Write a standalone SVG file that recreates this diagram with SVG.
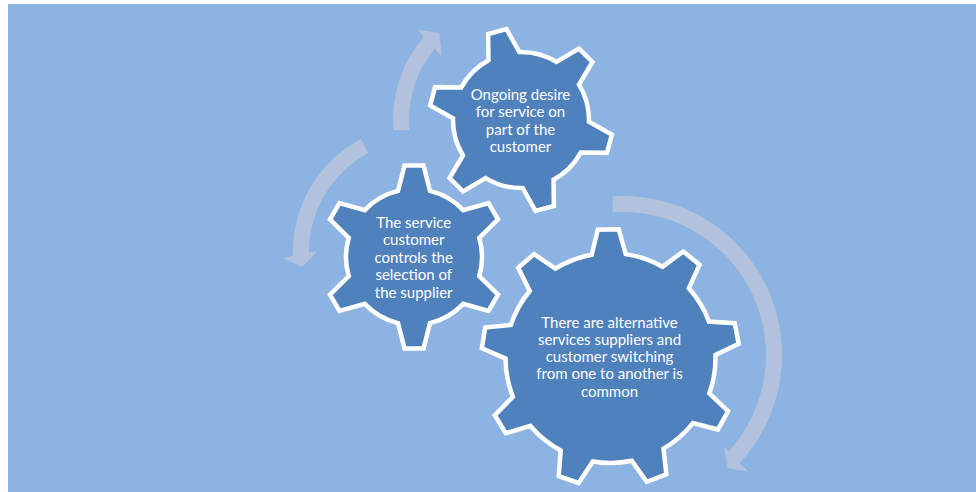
<svg xmlns="http://www.w3.org/2000/svg" width="976" height="492" viewBox="0 0 976 492">
<style>
.gear{fill:#4F81BD;stroke:#FFFFFF;stroke-width:4.5;stroke-linejoin:miter}
.arrow{fill:#B2C2DC}
.lbl{font-family:Lato,"Liberation Sans",sans-serif;font-size:15px;fill:#FFFFFF;text-anchor:middle}
</style>
<defs>
<path id="gear6" d="M-15.99,-66.10 L-9.50,-91.51 L9.50,-91.51 L15.99,-66.10 A68,68 0 0 1 49.25,-46.90 L74.50,-53.98 L84.00,-37.53 L65.24,-19.20 A68,68 0 0 1 65.24,19.20 L84.00,37.53 L74.50,53.98 L49.25,46.90 A68,68 0 0 1 15.99,66.10 L9.50,91.51 L-9.50,91.51 L-15.99,66.10 A68,68 0 0 1 -49.25,46.90 L-74.50,53.98 L-84.00,37.53 L-65.24,19.20 A68,68 0 0 1 -65.24,-19.20 L-84.00,-37.53 L-74.50,-53.98 L-49.25,-46.90 A68,68 0 0 1 -15.99,-66.10 Z"/>
<path id="gear9" d="M-17.00,-103.61 L-10.50,-128.57 L10.50,-128.57 L17.00,-103.61 A105,105 0 0 1 53.58,-90.30 L74.60,-105.24 L90.68,-91.74 L79.62,-68.44 A105,105 0 0 1 99.09,-34.73 L124.80,-32.67 L128.44,-11.99 L104.99,-1.25 A105,105 0 0 1 98.23,37.09 L116.60,55.20 L106.10,73.38 L81.23,66.53 A105,105 0 0 1 51.41,91.55 L53.84,117.23 L34.10,124.41 L19.47,103.17 A105,105 0 0 1 -19.47,103.17 L-34.10,124.41 L-53.84,117.23 L-51.41,91.55 A105,105 0 0 1 -81.23,66.53 L-106.10,73.38 L-116.60,55.20 L-98.23,37.09 A105,105 0 0 1 -104.99,-1.25 L-128.44,-11.99 L-124.80,-32.67 L-99.09,-34.73 A105,105 0 0 1 -79.62,-68.44 L-90.68,-91.74 L-74.60,-105.24 L-53.58,-90.30 A105,105 0 0 1 -17.00,-103.61 Z"/>
</defs>
<rect width="976" height="492" fill="#FFFFFF"/>
<rect x="8" y="4" width="968" height="488" fill="#8DB3E2"/>
<g id="connectors">
<path id="arrow-1" class="arrow" d="M393.4,130 A128,128 0 0 1 423.9,36.6 L417.3,29.3 L439.3,33.3 L441.7,56 L434.8,48.5 A112,112 0 0 0 409.4,130 Z"/>
<path id="arrow-2" class="arrow" d="M360.9,139.0 A128,128 0 0 0 293.0,256.1 L282.3,258.3 L302.3,266.7 L317.7,251 L309.0,252.8 A112,112 0 0 1 368.4,153.1 Z"/>
<path id="arrow-3" class="arrow" d="M612.7,196.3 A159,159 0 0 1 739.8,462.9 L748.3,471.7 L727.7,468.3 L724.3,446.7 L728.7,451.3 A143,143 0 0 0 612.7,212.4 Z"/>
</g>
<g id="gear-top">
<use href="#gear6" class="gear" transform="translate(521,120) rotate(-15)"/>
<text class="lbl" x="520.5"><tspan x="520.5" y="100">Ongoing desire</tspan><tspan x="520.5" y="117.4">for service on</tspan><tspan x="520.5" y="134.8">part of the</tspan><tspan x="520.5" y="152.2">customer</tspan></text>
</g>
<g id="gear-left">
<use href="#gear6" class="gear" transform="translate(414,257)"/>
<text class="lbl"><tspan x="413.7" y="227.7">The service</tspan><tspan x="413.7" y="245.2">customer</tspan><tspan x="413.7" y="262.7">controls the</tspan><tspan x="413.7" y="280.2">selection of</tspan><tspan x="413.7" y="297.7">the supplier</tspan></text>
</g>
<g id="gear-large">
<use href="#gear9" class="gear" transform="translate(610.5,358) rotate(-1)"/>
<text class="lbl"><tspan x="609.5" y="327.5">There are alternative</tspan><tspan x="609.5" y="344.8">services suppliers and</tspan><tspan x="609.5" y="362.1">customer switching</tspan><tspan x="609.5" y="379.4">from one to another is</tspan><tspan x="609.5" y="396.7">common</tspan></text>
</g>
</svg>
